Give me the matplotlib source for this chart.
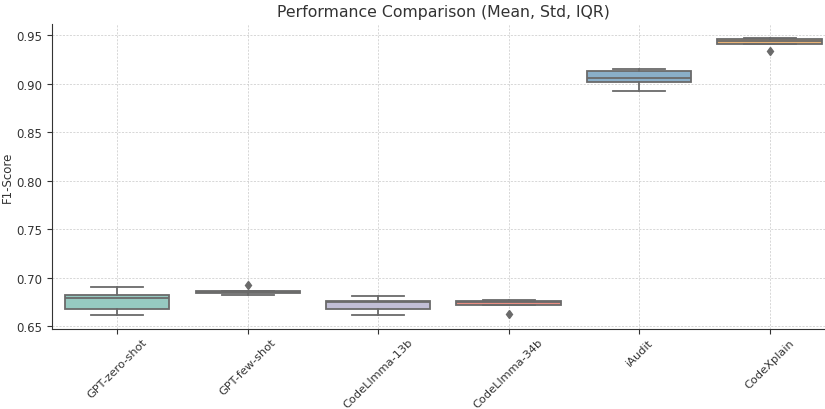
import matplotlib
matplotlib.use("Agg")
import matplotlib.pyplot as plt
import seaborn as sns

# per-model F1 scores
models = ["GPT-zero-shot", "GPT-few-shot", "CodeLlmma-13b", "CodeLlmma-34b", "iAudit", "CodeXplain"]
gpt_zero = [0.6616, 0.6675, 0.6798, 0.682, 0.691]
gpt_few = [0.682, 0.684, 0.6855, 0.687, 0.6925]
llama_13b = [0.662, 0.6675, 0.6747, 0.6764, 0.681]
llama_34b = [0.6627, 0.6723, 0.6747, 0.6764, 0.677]
iaudit = [0.893, 0.902, 0.906, 0.9134, 0.915]
codexplain = [0.9335, 0.941, 0.944, 0.9456, 0.9472]
scores = [gpt_zero, gpt_few, llama_13b, llama_34b, iaudit, codexplain]

colors = sns.color_palette("Set3", len(models), desat=0.75)
line_col = "#6a6a6a"
text_col = "#333333"

fig = plt.figure(figsize=(8.25, 4.1), dpi=100)
ax = fig.add_axes([0.063, 0.195, 0.949, 0.744])

bp = ax.boxplot(scores, positions=range(len(models)), widths=0.8, patch_artist=True,
                boxprops=dict(edgecolor=line_col, linewidth=1.3),
                whiskerprops=dict(color=line_col, linewidth=1.3),
                capprops=dict(color=line_col, linewidth=1.3),
                medianprops=dict(color=line_col, linewidth=1.3),
                flierprops=dict(marker="d", markerfacecolor=line_col, markeredgecolor=line_col,
                                markersize=4.5))
for patch, c in zip(bp["boxes"], colors):
    patch.set_facecolor(c)

ax.set_xlim(-0.5, len(models) - 0.5)
ax.set_xticks(range(len(models)))
ax.set_xticklabels(models, rotation=45, fontsize=8.2, color=text_col)
ax.tick_params(axis="y", labelsize=8.5, labelcolor=text_col, color=text_col)
ax.tick_params(axis="x", color=text_col, pad=2)
ax.set_ylabel("F1-Score", fontsize=8.5, color=text_col, labelpad=2)
ax.set_title("Performance Comparison (Mean, Std, IQR)", fontsize=11.3, color=text_col, pad=6)

ax.grid(True, linestyle=(0, (3, 2)), linewidth=0.5, color="#c8c8c8")
ax.set_axisbelow(True)
for side in ["top", "right"]:
    ax.spines[side].set_visible(False)
for side in ["left", "bottom"]:
    ax.spines[side].set_color(text_col)

fig.savefig("out.png", dpi=100)
